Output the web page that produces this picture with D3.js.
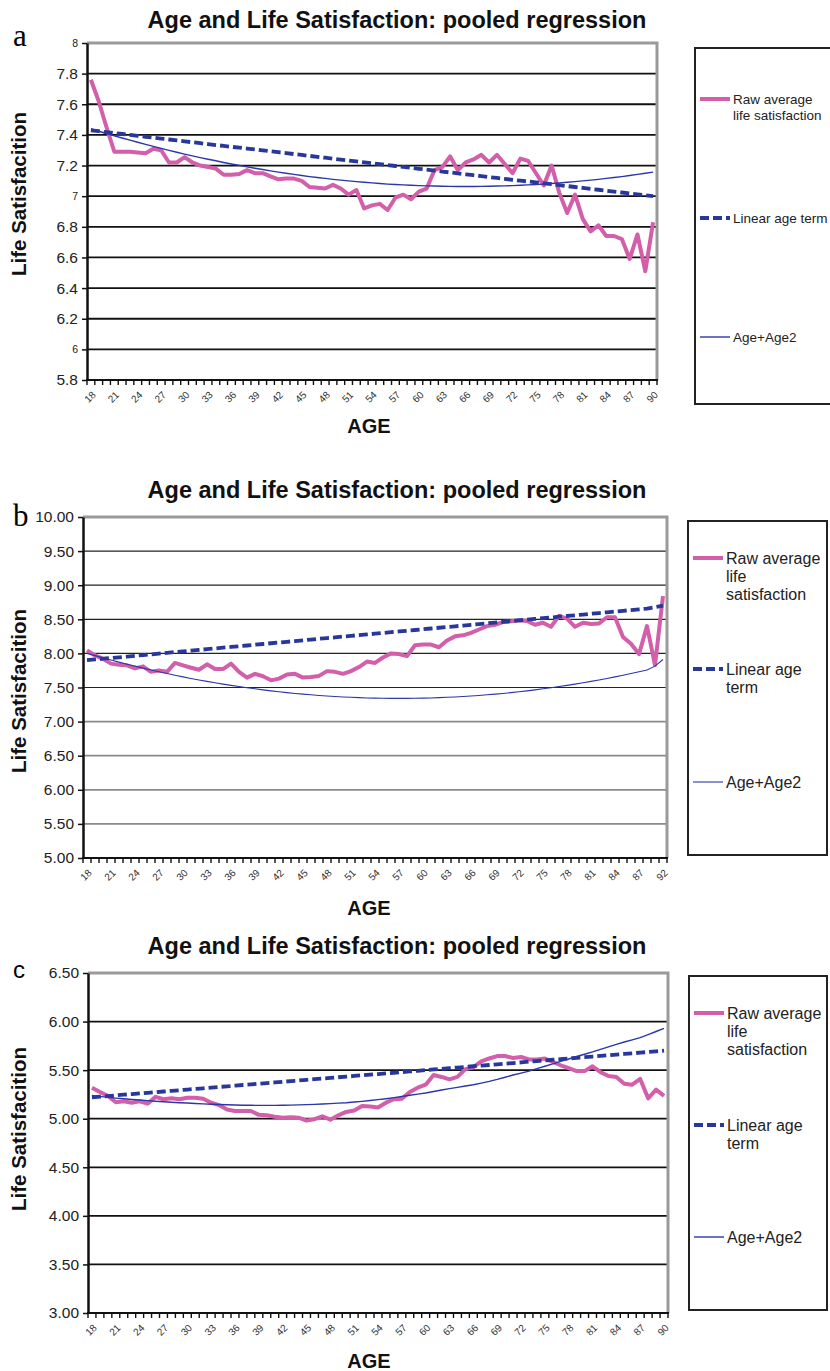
<!DOCTYPE html>
<html>
<head>
<meta charset="utf-8">
<script src="https://d3js.org/d3.v7.min.js"></script>
<style>
  body { margin: 0; background: #fff; }
  svg { display: block; font-family: "Liberation Sans", Arial, sans-serif; }
</style>
</head>
<body>
<script>
// ---- data ----
var agesA = [18,19,20,21,22,23,24,25,26,27,28,29,30,31,32,33,34,35,36,37,38,39,40,41,42,43,44,45,46,47,48,49,50,51,52,53,54,
             55,56,57,58,59,60,61,62,63,64,65,66,67,68,69,70,71,72,73,74,75,76,77,78,79,80,81,82,83,84,85,86,87,88,89,90];
var agesB = [18,19,20,21,22,23,24,25,26,27,28,29,30,31,32,33,34,35,36,37,38,39,40,41,42,43,44,45,46,47,48,49,50,51,52,53,54,
             55,56,57,58,59,60,61,62,63,64,65,66,67,68,69,70,71,72,73,74,75,76,77,78,79,80,81,82,83,84,85,86,87,88,90,92];
var agesC = agesA;

var rawA = [7.76,7.62,7.45,7.29,7.29,7.29,7.285,7.28,7.31,7.30,
            7.22,7.22,7.255,7.22,7.20,7.19,7.18,7.14,7.14,7.145,
            7.17,7.15,7.15,7.13,7.11,7.115,7.115,7.10,7.06,7.055,
            7.05,7.074,7.05,7.01,7.04,6.92,6.94,6.95,6.91,6.99,
            7.01,6.98,7.03,7.05,7.17,7.19,7.26,7.17,7.22,7.24,
            7.27,7.22,7.27,7.21,7.15,7.245,7.23,7.15,7.07,7.20,
            7.02,6.89,7.01,6.85,6.77,6.81,6.74,6.74,6.72,6.59,
            6.75,6.51,6.83];
var linA = [7.430,7.424,7.418,7.412,7.406,7.400,7.394,7.388,7.382,7.376,
            7.370,7.364,7.358,7.352,7.346,7.340,7.334,7.328,7.322,7.317,
            7.311,7.305,7.299,7.293,7.287,7.281,7.275,7.269,7.263,7.257,
            7.251,7.245,7.239,7.233,7.227,7.221,7.215,7.209,7.203,7.197,
            7.191,7.185,7.179,7.173,7.167,7.161,7.155,7.149,7.143,7.137,
            7.131,7.125,7.119,7.113,7.107,7.101,7.096,7.090,7.084,7.078,
            7.072,7.066,7.060,7.054,7.048,7.042,7.036,7.030,7.024,7.018,
            7.012,7.006,7.000];
var quadA = [7.440,7.424,7.409,7.394,7.380,7.366,7.352,7.338,7.325,7.312,
             7.299,7.287,7.275,7.263,7.252,7.241,7.231,7.220,7.210,7.201,
             7.191,7.182,7.174,7.165,7.157,7.150,7.142,7.135,7.128,7.122,
             7.116,7.110,7.105,7.100,7.095,7.091,7.087,7.083,7.079,7.076,
             7.074,7.071,7.069,7.067,7.066,7.065,7.064,7.063,7.063,7.063,
             7.064,7.065,7.066,7.067,7.069,7.071,7.074,7.076,7.079,7.083,
             7.087,7.091,7.095,7.100,7.105,7.110,7.116,7.122,7.128,7.135,
             7.142,7.150,7.157];

var rawB = [8.045,7.97,7.92,7.85,7.835,7.825,7.78,7.81,7.73,7.75,
            7.73,7.86,7.825,7.79,7.76,7.84,7.77,7.77,7.85,7.73,
            7.645,7.70,7.665,7.605,7.63,7.69,7.70,7.645,7.655,7.67,
            7.74,7.73,7.70,7.74,7.80,7.88,7.86,7.94,8.00,7.99,
            7.96,8.12,8.13,8.13,8.09,8.19,8.25,8.265,8.30,8.35,
            8.40,8.42,8.46,8.47,8.485,8.475,8.42,8.45,8.39,8.55,
            8.51,8.39,8.45,8.43,8.44,8.53,8.53,8.24,8.14,7.99,
            8.40,7.83,8.84];
var linB = [7.900,7.911,7.922,7.932,7.943,7.954,7.965,7.976,7.986,7.997,
            8.008,8.019,8.030,8.041,8.051,8.062,8.073,8.084,8.095,8.105,
            8.116,8.127,8.138,8.149,8.159,8.170,8.181,8.192,8.203,8.214,
            8.224,8.235,8.246,8.257,8.268,8.278,8.289,8.300,8.311,8.322,
            8.332,8.343,8.354,8.365,8.376,8.386,8.397,8.408,8.419,8.430,
            8.441,8.451,8.462,8.473,8.484,8.495,8.505,8.516,8.527,8.538,
            8.549,8.559,8.570,8.581,8.592,8.603,8.614,8.624,8.635,8.646,
            8.657,8.678,8.700];
var quadB = [8.000,7.967,7.934,7.902,7.872,7.842,7.813,7.784,7.757,7.731,
             7.705,7.680,7.656,7.633,7.611,7.590,7.570,7.550,7.531,7.514,
             7.497,7.481,7.465,7.451,7.438,7.425,7.413,7.403,7.393,7.383,
             7.375,7.368,7.361,7.356,7.351,7.347,7.344,7.342,7.340,7.340,
             7.340,7.342,7.344,7.347,7.351,7.356,7.361,7.368,7.375,7.383,
             7.393,7.403,7.413,7.425,7.438,7.451,7.465,7.481,7.497,7.514,
             7.531,7.550,7.570,7.590,7.611,7.633,7.656,7.680,7.705,7.731,
             7.757,7.813,7.910];

var rawC = [5.32,5.275,5.235,5.17,5.18,5.165,5.18,5.155,5.225,5.20,
            5.21,5.20,5.215,5.215,5.205,5.165,5.14,5.095,5.08,5.08,
            5.08,5.04,5.035,5.02,5.01,5.015,5.01,4.98,4.995,5.025,
            4.99,5.035,5.07,5.085,5.13,5.125,5.115,5.165,5.20,5.205,
            5.275,5.32,5.35,5.45,5.43,5.405,5.43,5.51,5.53,5.59,
            5.62,5.645,5.645,5.625,5.635,5.61,5.61,5.62,5.585,5.55,
            5.52,5.49,5.49,5.54,5.48,5.44,5.43,5.36,5.35,5.41,
            5.21,5.30,5.235];
var linC = [5.220,5.227,5.233,5.240,5.247,5.253,5.260,5.267,5.273,5.280,
            5.287,5.293,5.300,5.307,5.313,5.320,5.327,5.333,5.340,5.347,
            5.353,5.360,5.367,5.373,5.380,5.387,5.393,5.400,5.407,5.413,
            5.420,5.427,5.433,5.440,5.447,5.453,5.460,5.467,5.473,5.480,
            5.487,5.493,5.500,5.507,5.513,5.520,5.527,5.533,5.540,5.547,
            5.553,5.560,5.567,5.573,5.580,5.587,5.593,5.600,5.607,5.613,
            5.620,5.627,5.633,5.640,5.647,5.653,5.660,5.667,5.673,5.680,
            5.687,5.693,5.700];
var quadC = [5.240,5.230,5.220,5.212,5.205,5.198,5.192,5.186,5.180,5.175,
             5.170,5.165,5.161,5.157,5.153,5.149,5.146,5.143,5.141,5.139,
             5.138,5.137,5.137,5.137,5.138,5.140,5.142,5.145,5.148,5.151,
             5.155,5.160,5.165,5.172,5.179,5.187,5.196,5.206,5.217,5.229,
             5.241,5.253,5.265,5.280,5.295,5.310,5.323,5.337,5.350,5.367,
             5.385,5.405,5.427,5.450,5.470,5.490,5.515,5.540,5.565,5.590,
             5.615,5.640,5.664,5.688,5.714,5.740,5.765,5.790,5.812,5.835,
             5.866,5.898,5.930];

var yTicksA = [5.8,6,6.2,6.4,6.6,6.8,7,7.2,7.4,7.6,7.8,8];
var yTicksB = [5,5.5,6,6.5,7,7.5,8,8.5,9,9.5,10];
var yTicksC = [3,3.5,4,4.5,5,5.5,6,6.5];

var title = "Age and Life Satisfaction: pooled regression";
var yTitle = "Life Satisfacition";
var xTitle = "AGE";
var legendA = [["Raw average", "life satisfaction"], ["Linear age term"], ["Age+Age2"]];
var legendBC = [["Raw average", "life", "satisfaction"], ["Linear age", "term"], ["Age+Age2"]];

var pink = "#d35ea9", navy = "#28379a", blue = "#2c36a8";

var svg = d3.select("body").append("svg")
    .attr("width", 830)
    .attr("height", 1371);

function drawPanel(p) {
    var g = svg.append("g");
    var x = d3.scaleBand().domain(p.ages).range([p.left, p.right]);
    var y = d3.scaleLinear().domain([p.yTicks[0], p.yTicks[p.yTicks.length - 1]]).range([p.bottom, p.top]);
    var cx = function(i) { return x(p.ages[i]) + x.bandwidth() / 2; };

    // panel letter
    g.append("text")
        .attr("x", 13).attr("y", p.letterY)
        .style("font-family", p.letterFont)
        .style("font-size", p.letterSize + "px")
        .text(p.letter);

    // title
    g.append("text")
        .attr("x", 397).attr("y", p.titleY)
        .attr("text-anchor", "middle")
        .style("font-weight", "bold").style("font-size", "23.5px")
        .attr("fill", "#111")
        .text(title);

    // gridlines
    g.selectAll(".grid")
        .data(p.yTicks.slice(1, -1))
        .enter().append("line")
        .attr("x1", p.left).attr("x2", p.right)
        .attr("y1", function(d) { return y(d); })
        .attr("y2", function(d) { return y(d); })
        .attr("stroke", function(d) { return p.gridColor(d); })
        .attr("stroke-width", function(d) { return p.gridWidth(d); });

    // plot area border, grey at top and right
    g.append("path")
        .attr("d", "M" + p.left + "," + (p.top) + "H" + p.right + "V" + p.bottom)
        .attr("fill", "none")
        .attr("stroke", "#9a9a9a")
        .attr("stroke-width", 3);

    var line = d3.line()
        .x(function(d, i) { return cx(i); })
        .y(function(d) { return y(d); });

    g.append("path").attr("d", line(p.raw))
        .attr("fill", "none").attr("stroke", pink).attr("stroke-width", 4)
        .attr("stroke-linejoin", "round");
    g.append("path").attr("d", line(p.lin))
        .attr("fill", "none").attr("stroke", navy).attr("stroke-width", 3.8)
        .attr("stroke-dasharray", "9,4");
    g.append("path").attr("d", line(p.quad))
        .attr("fill", "none").attr("stroke", blue).attr("stroke-width", p.quadWidth);

    // y axis
    var yAxis = d3.axisLeft(y)
        .tickValues(p.yTicks)
        .tickSize(5).tickSizeOuter(0)
        .tickFormat(p.yFmt);
    var ya = g.append("g")
        .attr("transform", "translate(" + p.left + ",0)")
        .call(yAxis);
    ya.select(".domain").attr("stroke", "#111").attr("stroke-width", 2.5);
    ya.selectAll(".tick line").attr("stroke", "#111").attr("stroke-width", 1.5);
    ya.selectAll(".tick text")
        .attr("x", -9)
        .attr("fill", "#222")
        .style("font-family", "Liberation Sans, Arial, sans-serif")
        .style("font-size", function(d) { return p.ySize(d) + "px"; });

    // x axis: ticks between categories, labels every third category
    var bounds = p.ages.map(function(d) { return x(d); }).concat([p.right]);
    g.append("line")
        .attr("x1", p.left - 1).attr("x2", p.right + 1)
        .attr("y1", p.bottom).attr("y2", p.bottom)
        .attr("stroke", "#111").attr("stroke-width", 2.2);
    g.selectAll(".xtick")
        .data(bounds)
        .enter().append("line")
        .attr("x1", function(d) { return d; }).attr("x2", function(d) { return d; })
        .attr("y1", p.bottom).attr("y2", p.bottom + 5)
        .attr("stroke", "#111").attr("stroke-width", 1.4);
    var labelIdx = p.ages.map(function(d, i) { return i; }).filter(function(i) { return i % 3 === 0; });
    g.selectAll(".xlab")
        .data(labelIdx)
        .enter().append("text")
        .attr("transform", function(i) { return "translate(" + (cx(i) + 3) + "," + (p.bottom + 13) + ") rotate(-45)"; })
        .attr("text-anchor", "end")
        .attr("dy", "0.35em")
        .attr("fill", "#333")
        .style("font-size", "10px")
        .text(function(i) { return p.ages[i]; });

    // axis titles
    g.append("text")
        .attr("transform", "translate(26," + p.yTitleY + ") rotate(-90)")
        .attr("text-anchor", "middle")
        .style("font-weight", "bold").style("font-size", "20.5px")
        .attr("fill", "#111")
        .text(yTitle);
    g.append("text")
        .attr("x", 369).attr("y", p.xTitleY)
        .attr("text-anchor", "middle")
        .style("font-weight", "bold").style("font-size", "20px")
        .attr("fill", "#111")
        .text(xTitle);

    // legend
    var L = p.legend;
    g.append("rect")
        .attr("x", L.x).attr("y", L.y).attr("width", L.w).attr("height", L.h)
        .attr("fill", "#fff").attr("stroke", "#222").attr("stroke-width", 2);
    var styles = [
        { stroke: pink, width: 4, dash: null },
        { stroke: navy, width: 3.8, dash: "9,4" },
        { stroke: blue, width: p.quadWidth, dash: null }
    ];
    L.rows.forEach(function(ry, k) {
        g.append("line")
            .attr("x1", L.x + 5).attr("x2", L.x + 35)
            .attr("y1", ry).attr("y2", ry)
            .attr("stroke", styles[k].stroke)
            .attr("stroke-width", styles[k].width)
            .attr("stroke-dasharray", styles[k].dash);
        var t = g.append("text")
            .attr("x", L.x + 38).attr("y", ry + L.size * 0.36)
            .attr("fill", "#222")
            .style("font-size", L.size + "px");
        p.legendText[k].forEach(function(s, j) {
            t.append("tspan").attr("x", L.x + 38).attr("dy", j === 0 ? 0 : L.lh).text(s);
        });
    });
}

var intFmt = function(d) { return Math.abs(d - Math.round(d)) < 1e-9 ? String(Math.round(d)) : d.toFixed(1); };

drawPanel({
    letter: "a", letterFont: "Liberation Serif, serif", letterSize: 31, letterY: 46,
    titleY: 28, yTitleY: 194, xTitleY: 433,
    left: 87, right: 657, top: 43, bottom: 380,
    ages: agesA, raw: rawA, lin: linA, quad: quadA, quadWidth: 1.4,
    yTicks: yTicksA, yFmt: intFmt,
    ySize: function(d) { return Math.abs(d - Math.round(d)) < 1e-9 ? 10.5 : 15.5; },
    gridColor: function() { return "#111"; },
    gridWidth: function() { return 1.8; },
    legend: { x: 695, y: 48, w: 145, h: 356, rows: [99, 218, 337], size: 13.5, lh: 16 },
    legendText: legendA
});

drawPanel({
    letter: "b", letterFont: "Liberation Serif, serif", letterSize: 31, letterY: 526,
    titleY: 498, yTitleY: 691, xTitleY: 915,
    left: 83, right: 667, top: 517, bottom: 858,
    ages: agesB, raw: rawB, lin: linB, quad: quadB, quadWidth: 1.1,
    yTicks: yTicksB, yFmt: d3.format(".2f"),
    ySize: function() { return 15.5; },
    gridColor: function(d) { return d >= 7.5 ? "#222" : "#8a8a8a"; },
    gridWidth: function(d) { return d >= 7.5 ? 1.2 : 1.8; },
    legend: { x: 688, y: 521, w: 139, h: 334, rows: [558, 669, 782], size: 16, lh: 18 },
    legendText: legendBC
});

drawPanel({
    letter: "c", letterFont: "Liberation Sans, Arial, sans-serif", letterSize: 24, letterY: 978,
    titleY: 954, yTitleY: 1129, xTitleY: 1368,
    left: 88, right: 668, top: 973, bottom: 1313,
    ages: agesC, raw: rawC, lin: linC, quad: quadC, quadWidth: 1.4,
    yTicks: yTicksC, yFmt: d3.format(".2f"),
    ySize: function() { return 15.5; },
    gridColor: function() { return "#111"; },
    gridWidth: function() { return 1.8; },
    legend: { x: 689, y: 976, w: 138, h: 334, rows: [1013, 1125, 1237], size: 16, lh: 18 },
    legendText: legendBC
});
</script>
</body>
</html>
